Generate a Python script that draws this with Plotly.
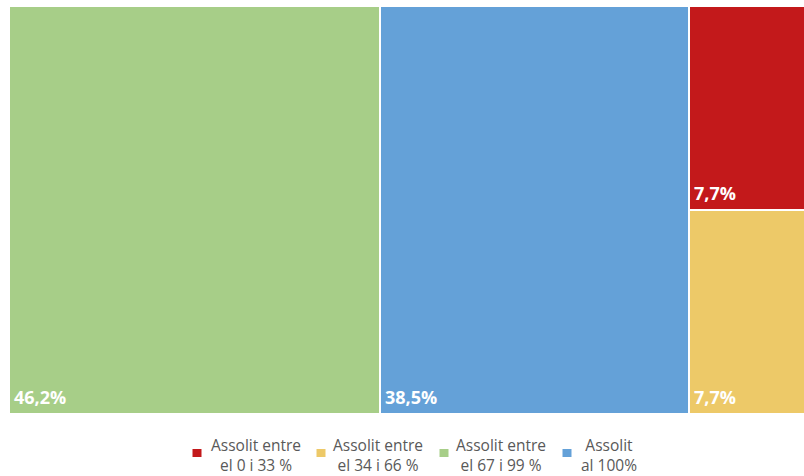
import plotly.graph_objects as go

categories = ["Assolit entre<br>el 0 i 33 %", "Assolit entre<br>el 34 i 66 %",
              "Assolit entre<br>el 67 i 99 %", "Assolit<br>al 100%"]
values = [7.7, 7.7, 46.2, 38.5]
colors = ["#C3191B", "#EDC968", "#A7CE88", "#64A1D8"]

# treemap columns: list of category indices per column (top to bottom)
columns = [[2], [3], [0, 1]]

fig = go.Figure()
rects = {}
x0 = 0.0
for col in columns:
    w = sum(values[i] for i in col)
    y_top = 1.0
    for i in col:
        h = values[i] / w
        rects[i] = (x0, x0 + w, y_top - h, y_top)
        y_top -= h
    x0 += w

for i, name in enumerate(categories):
    xa, xb, ya, yb = rects[i]
    fig.add_trace(go.Bar(
        x=[(xa + xb) / 2], y=[yb - ya], base=[ya], width=[xb - xa],
        marker=dict(color=colors[i], line=dict(color="white", width=2)),
        name=name, showlegend=False, hoverinfo="skip",
    ))
    fig.add_annotation(
        x=xa, y=ya, xref="x", yref="y", xanchor="left", yanchor="bottom",
        text="<b>" + f"{values[i]:.1f}".replace(".", ",") + "%</b>",
        showarrow=False, xshift=3, yshift=3,
        font=dict(family="Open Sans", size=18, color="white"),
    )

# manual legend (centered two-line labels)
legend_marker_x = [197, 321, 444, 567]
legend_text_x = [256, 378, 501, 609]
W, H = 804, 476
for i, name in enumerate(categories):
    mx = legend_marker_x[i]
    fig.add_shape(type="rect", xref="paper", yref="paper",
                  x0=(mx - 9 - 4.5) / 795, x1=(mx - 9 + 4.5) / 795,
                  y0=(414 - 457) / 408, y1=(414 - 449) / 408,
                  fillcolor=colors[i], line=dict(width=0))
    fig.add_annotation(
        x=(legend_text_x[i] - 9) / 795, y=(414 - 455) / 408,
        xref="paper", yref="paper", xanchor="center", yanchor="middle",
        text=name, align="center", showarrow=False,
        font=dict(family="Open Sans", size=15.5, color="#595959"),
    )

fig.update_layout(
    width=W, height=H,
    margin=dict(l=9, r=0, t=6, b=62),
    barmode="overlay", bargap=0,
    plot_bgcolor="white", paper_bgcolor="white",
    xaxis=dict(range=[0, 99], visible=False, fixedrange=True),
    yaxis=dict(range=[0, 1], visible=False, fixedrange=True),
    showlegend=False,
)
fig.write_html("out.html", config={"displayModeBar": False},
               post_script="document.body.style.margin='0';document.body.style.overflow='hidden';")
